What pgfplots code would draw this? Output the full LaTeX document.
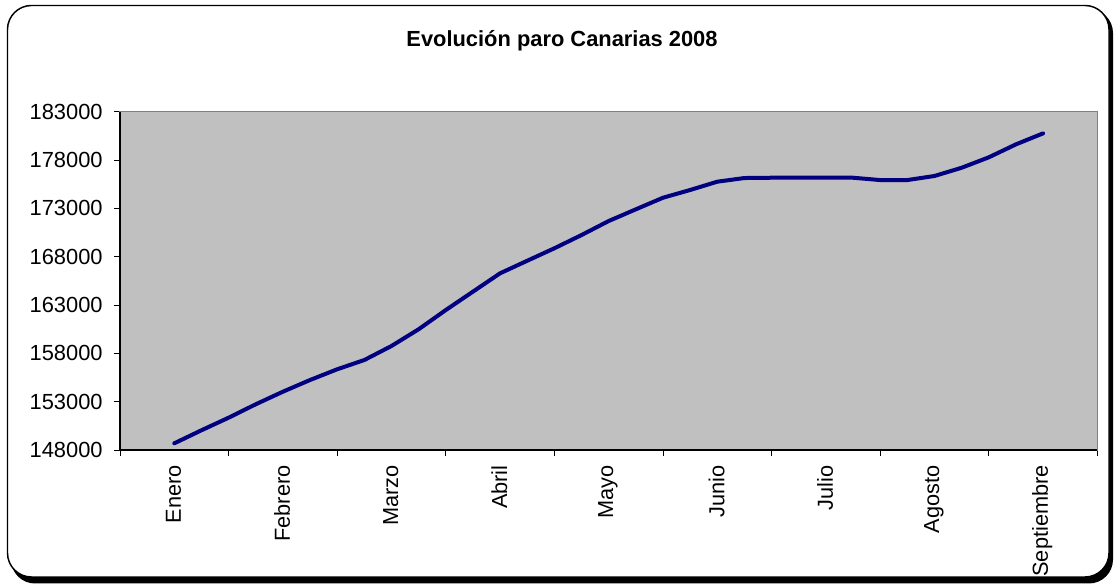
\documentclass[border=0pt]{standalone}
\usepackage{pgfplots}
\pgfplotsset{compat=1.18}
\usepackage{fontspec}
\setmainfont{Liberation Sans}
\definecolor{plotgray}{RGB}{192,192,192}
\definecolor{framegray}{RGB}{128,128,128}
\definecolor{navyline}{RGB}{0,0,128}
\begin{document}
\begin{tikzpicture}[x=0.75pt,y=0.75pt]
% page size
\path[fill=white] (0,0) rectangle (1114,584);
% outer frame with shadow
\fill[black, rounded corners=18pt] (11,0.5) rectangle (1113,575);
\draw[black, line width=1.1pt, fill=white, rounded corners=18pt] (7.5,7) rectangle (1109,578.5);
\node[font=\bfseries\fontsize{16.4}{20}\selectfont, anchor=base] at (562,537.3) {Evolución paro Canarias 2008};
\begin{axis}[
  at={(90pt,100.5pt)}, anchor=south west,
  scale only axis, width=733pt, height=253.7pt,
  xmin=-0.5, xmax=8.5, ymin=148000, ymax=183000,
  axis background/.style={fill=plotgray},
  axis line style={framegray, line width=0.9pt},
  tick align=outside,
  xtick pos=bottom, ytick pos=left,
  tick style={black, line width=0.6pt},
  xtick={0,...,8},
  xticklabels={Enero,Febrero,Marzo,Abril,Mayo,Junio,Julio,Agosto,Septiembre},
  major x tick style={draw=none},
  minor xtick={-0.5,0.5,...,8.5},
  minor tick length=4.5pt,
  ytick={148000,153000,...,183000},
  major tick length=4.5pt,
  scaled y ticks=false,
  /pgf/number format/.cd, fixed, precision=0, 1000 sep={}, assume math mode=true,
  /pgfplots/.cd,
  x tick label style={font=\fontsize{16.3}{19}\selectfont, rotate=90, anchor=east, xshift=-3.5pt, yshift=0.5pt},
  y tick label style={font=\fontsize{16.4}{19}\selectfont, anchor=east, xshift=-5pt},
  clip=false,
]
\addplot[navyline, line width=3pt, line join=round, line cap=round] coordinates {
(0,148690) (0.25,150040) (0.5,151340) (0.75,152730)
(1,154030) (1.25,155240) (1.5,156350) (1.75,157310)
(2,158760) (2.25,160490) (2.5,162480) (2.75,164380)
(3,166280) (3.25,167580) (3.5,168870) (3.75,170240)
(4,171690) (4.25,172900) (4.5,174100) (4.75,174900)
(5,175760) (5.25,176140) (5.5,176170) (5.75,176170)
(6,176170) (6.25,176170) (6.5,175930) (6.75,175930)
(7,176350) (7.25,177200) (7.5,178280) (7.75,179620)
(8,180760)
};
\draw[black, line width=1pt] (rel axis cs:0,1) -- (rel axis cs:0,0) -- (rel axis cs:1,0);
\end{axis}
\end{tikzpicture}
\end{document}
